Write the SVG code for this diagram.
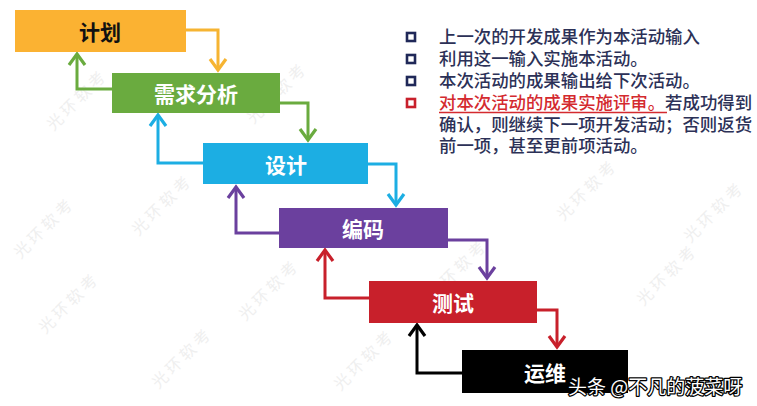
<svg xmlns="http://www.w3.org/2000/svg" width="757" height="406" viewBox="0 0 757 406">
<defs>
<style>
.lbl{font-family:"Noto Sans CJK SC","Noto Sans",sans-serif;font-weight:700;font-size:21px;text-anchor:middle;dominant-baseline:central}
.w{fill:#ffffff}
.wm{font-family:"Noto Sans CJK SC",sans-serif;font-size:16px;fill:#efefef;text-anchor:middle;dominant-baseline:central}
.ln{fill:none;stroke-width:3;stroke-linejoin:miter}
.tx{font-family:"Noto Sans CJK SC","Noto Sans",sans-serif;font-weight:500;font-size:17.4px;fill:#2c3157}
.bul{fill:none;stroke-width:2.6}
</style>
<marker id="aO" markerUnits="userSpaceOnUse" viewBox="-15 -15 30 30" markerWidth="30" markerHeight="30" refX="0" refY="0" orient="auto"><path d="M-11,-8 L0,0 L-11,8" fill="none" stroke="#f6b432" stroke-width="3.2"/></marker>
<marker id="aG" markerUnits="userSpaceOnUse" viewBox="-15 -15 30 30" markerWidth="30" markerHeight="30" refX="0" refY="0" orient="auto"><path d="M-11,-8 L0,0 L-11,8" fill="none" stroke="#6aab3f" stroke-width="3.2"/></marker>
<marker id="aB" markerUnits="userSpaceOnUse" viewBox="-15 -15 30 30" markerWidth="30" markerHeight="30" refX="0" refY="0" orient="auto"><path d="M-11,-8 L0,0 L-11,8" fill="none" stroke="#1caee3" stroke-width="3.2"/></marker>
<marker id="aP" markerUnits="userSpaceOnUse" viewBox="-15 -15 30 30" markerWidth="30" markerHeight="30" refX="0" refY="0" orient="auto"><path d="M-11,-8 L0,0 L-11,8" fill="none" stroke="#6b409e" stroke-width="3.2"/></marker>
<marker id="aR" markerUnits="userSpaceOnUse" viewBox="-15 -15 30 30" markerWidth="30" markerHeight="30" refX="0" refY="0" orient="auto"><path d="M-11,-8 L0,0 L-11,8" fill="none" stroke="#c8202b" stroke-width="3.2"/></marker>
<marker id="aK" markerUnits="userSpaceOnUse" viewBox="-15 -15 30 30" markerWidth="30" markerHeight="30" refX="0" refY="0" orient="auto"><path d="M-11,-8 L0,0 L-11,8" fill="none" stroke="#000000" stroke-width="3.2"/></marker>
</defs>
<rect width="757" height="406" fill="#ffffff"/>
<g id="watermarks">
<text class="wm" transform="translate(75,100) rotate(-45)">光 环 软 考</text>
<text class="wm" transform="translate(275,93) rotate(-45)">光 环 软 考</text>
<text class="wm" transform="translate(67,303) rotate(-45)">光 环 软 考</text>
<text class="wm" transform="translate(160,205) rotate(-45)">光 环 软 考</text>
<text class="wm" transform="translate(180,358) rotate(-45)">光 环 软 考</text>
<text class="wm" transform="translate(267,290) rotate(-45)">光 环 软 考</text>
<text class="wm" transform="translate(362,360) rotate(-45)">光 环 软 考</text>
<text class="wm" transform="translate(455,270) rotate(-45)">光 环 软 考</text>
<text class="wm" transform="translate(665,275) rotate(-45)">光 环 软 考</text>
<text class="wm" transform="translate(585,190) rotate(-45)">光 环 软 考</text>
<text class="wm" transform="translate(712,212) rotate(-45)">光 环 软 考</text>
<text class="wm" transform="translate(42,228) rotate(-45)">光 环 软 考</text>
</g>
<g id="connectors">
<polyline class="ln" stroke="#f6b432" points="186,30 218,30 218,70" marker-end="url(#aO)"/>
<polyline class="ln" stroke="#6aab3f" points="112,89 77,89 77,54" marker-end="url(#aG)"/>
<polyline class="ln" stroke="#6aab3f" points="280,103 308,103 308,140" marker-end="url(#aG)"/>
<polyline class="ln" stroke="#1caee3" points="203,163 158,163 158,115" marker-end="url(#aB)"/>
<polyline class="ln" stroke="#1caee3" points="368,164 396,164 396,205" marker-end="url(#aB)"/>
<polyline class="ln" stroke="#6b409e" points="279,233 236,233 236,187" marker-end="url(#aP)"/>
<polyline class="ln" stroke="#6b409e" points="448,240 487,240 487,278" marker-end="url(#aP)"/>
<polyline class="ln" stroke="#c8202b" points="369,298 325,298 325,250" marker-end="url(#aR)"/>
<polyline class="ln" stroke="#c8202b" points="537,310 557,310 557,347" marker-end="url(#aR)"/>
<polyline class="ln" stroke="#000000" points="462,373 417,373 417,325" marker-end="url(#aK)"/>
</g>
<g id="plan">
<rect x="15" y="10" width="171" height="42" fill="#fbb232"/>
<text class="lbl" x="100" y="31" fill="#111111">计划</text>
</g>
<g id="requirements">
<rect x="112" y="73" width="168" height="40" fill="#6aab3f"/>
<text class="lbl w" x="196" y="93">需求分析</text>
</g>
<g id="design">
<rect x="203" y="143" width="165" height="41" fill="#1caee3"/>
<text class="lbl w" x="286" y="164">设计</text>
</g>
<g id="coding">
<rect x="279" y="208" width="169" height="40" fill="#6b409e"/>
<text class="lbl w" x="363" y="228">编码</text>
</g>
<g id="testing">
<rect x="369" y="281" width="168" height="42" fill="#c8202b"/>
<text class="lbl w" x="453" y="302">测试</text>
</g>
<g id="operations">
<rect x="462" y="350" width="166" height="43" fill="#000000"/>
<text class="lbl w" x="545" y="372">运维</text>
</g>
<g id="notes">
<rect x="407" y="33" width="8" height="8" class="bul" stroke="#1f2858"/>
<rect x="407" y="55" width="8" height="8" class="bul" stroke="#1f2858"/>
<rect x="407" y="77" width="8" height="8" class="bul" stroke="#1f2858"/>
<rect x="407" y="99" width="8" height="8" class="bul" stroke="#c8202b"/>
<text class="tx" x="439" y="43">上一次的开发成果作为本活动输入</text>
<text class="tx" x="439" y="65">利用这一输入实施本活动。</text>
<text class="tx" x="439" y="87">本次活动的成果输出给下次活动。</text>
<text class="tx" x="439" y="109"><tspan fill="#d42a2f">对本次活动的成果实施评审。</tspan>若成功得到</text>
<line x1="439" y1="112.5" x2="667" y2="112.5" stroke="#d42a2f" stroke-width="1.5"/>
<text class="tx" x="439" y="131">确认，则继续下一项开发活动；否则返货</text>
<text class="tx" x="439" y="152">前一项，甚至更前项活动。</text>
</g>
<text x="568" y="394" font-family="'Noto Sans CJK SC',sans-serif" font-size="19px" fill="#ffffff" stroke="#000000" stroke-width="2.5" paint-order="stroke" stroke-linejoin="round">头条 @不凡的菠菜呀</text>
</svg>
